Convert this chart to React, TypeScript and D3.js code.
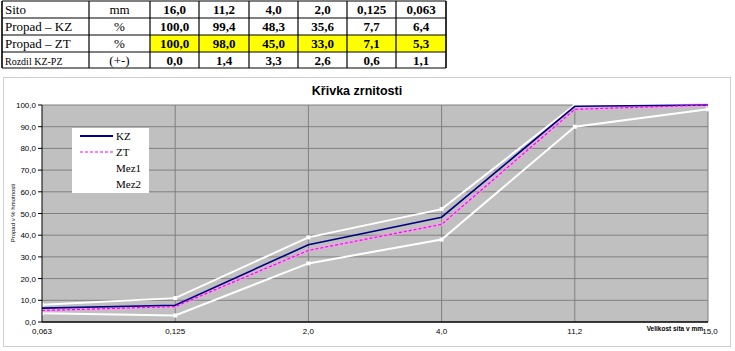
import React from 'react';
import * as d3 from 'd3';

// table data (as printed above the chart)
const rowLabels = ['Sito', 'Propad – KZ', 'Propad – ZT', 'Rozdil KZ-PZ'];
const rowUnits = ['mm', '%', '%', '(+-)'];
const sieves = ['16,0', '11,2', '4,0', '2,0', '0,125', '0,063'];
const passKZ = [100.0, 99.4, 48.3, 35.6, 7.7, 6.4];
const passZT = [100.0, 98.0, 45.0, 33.0, 7.1, 5.3];
const diff = [0.0, 1.4, 3.3, 2.6, 0.6, 1.1];

// chart data (small sieve first)
const categories = ['0,063', '0,125', '2,0', '4,0', '11,2', '15,0'];
const kz = [6.4, 7.7, 35.6, 48.3, 99.4, 100.0];
const zt = [5.3, 7.1, 33.0, 45.0, 98.0, 100.0];
const mez1 = [8, 11, 39, 52, 100, 100];
const mez2 = [4, 3, 27, 38, 90, 98];
const yTicks = [0, 10, 20, 30, 40, 50, 60, 70, 80, 90, 100];

const comma = (v: number) => d3.format('.1f')(v).replace('.', ',');

function Table() {
  const colX = [2, 89, 150, 199, 249, 298, 347, 396, 446];
  const rowY = [1, 18, 35, 52, 68];
  const rows = [sieves, passKZ.map(comma), passZT.map(comma), diff.map(comma)];
  return (
    <g>
      <rect x={colX[2]} y={rowY[2]} width={colX[8] - colX[2]} height={rowY[3] - rowY[2]} fill="#ffff00" />
      {rowY.map((y, i) => (
        <line key={'h' + i} x1={colX[0]} x2={colX[8]} y1={y} y2={y} stroke="#000" strokeWidth={1.2} />
      ))}
      {colX.map((x, i) => (
        <line key={'v' + i} x1={x} x2={x} y1={rowY[0]} y2={rowY[4]} stroke="#000"
          strokeWidth={i === 0 || i === 8 ? 1.6 : 1.2} />
      ))}
      {rowLabels.map((lab, r) => (
        <g key={lab} fontFamily="'Liberation Serif', 'Times New Roman', serif">
          <text x={colX[0] + 3} y={rowY[r] + 13} fontSize={r === 3 ? 10 : 13}>{lab}</text>
          <text x={(colX[1] + colX[2]) / 2} y={rowY[r] + 13} fontSize={13} textAnchor="middle">{rowUnits[r]}</text>
          {rows[r].map((v, c) => (
            <text key={c} x={(colX[c + 2] + colX[c + 3]) / 2} y={rowY[r] + 13} fontSize={13}
              fontWeight="bold" textAnchor="middle">{v}</text>
          ))}
        </g>
      ))}
    </g>
  );
}

function Chart() {
  const x = d3.scalePoint<string>().domain(categories).range([42, 708]).padding(0);
  const y = d3.scaleLinear().domain([0, 100]).range([322, 105]);
  const line = d3.line<number>()
    .x((_, i) => x(categories[i]) as number)
    .y(d => y(d));

  return (
    <g fontFamily="'Liberation Sans', Arial, sans-serif">
      <rect x={3.5} y={77.5} width={727} height={269} fill="#fff" stroke="#d0d0d0" />
      <text x={357} y={95} textAnchor="middle" fontSize={12.5} fontWeight="bold">Křivka zrnitosti</text>

      <rect x={42} y={105} width={666} height={217} fill="#c0c0c0" />
      {yTicks.slice(1).map(t => (
        <line key={t} x1={42} x2={708} y1={y(t)} y2={y(t)} stroke="#808080" />
      ))}
      {categories.slice(1).map(c => (
        <line key={c} x1={x(c)} x2={x(c)} y1={105} y2={322} stroke="#808080" />
      ))}

      {/* limits */}
      {[mez1, mez2].map((s, k) => (
        <g key={k}>
          <path d={line(s) || ''} fill="none" stroke="#fff" strokeWidth={2} />
          {s.map((v, i) => (
            <rect key={i} x={(x(categories[i]) as number) - 2} y={y(v) - 2} width={4} height={4} fill="#fff" />
          ))}
        </g>
      ))}
      <path d={line(zt) || ''} fill="none" stroke="#ff9cf0" strokeWidth={4} opacity={0.45} />
      <path d={line(kz) || ''} fill="none" stroke="#000080" strokeWidth={1.6} />
      <path d={line(zt) || ''} fill="none" stroke="#ff00ff" strokeWidth={1.2} strokeDasharray="3,2" />

      {/* axes */}
      <line x1={42} x2={42} y1={105} y2={322} stroke="#000" />
      <line x1={42} x2={708} y1={322} y2={322} stroke="#000" strokeWidth={1.5} />
      {yTicks.map(t => (
        <g key={t}>
          <line x1={38} x2={42} y1={y(t)} y2={y(t)} stroke="#000" />
          <text x={36} y={y(t) + 3} fontSize={8} textAnchor="end">{comma(t)}</text>
        </g>
      ))}
      {categories.map(c => (
        <text key={c} x={(x(c) as number) + (c === '15,0' ? 2 : 0)} y={334} fontSize={8} textAnchor="middle">{c}</text>
      ))}
      <text x={703} y={331} fontSize={6.5} fontWeight="bold" textAnchor="end">Velikost síta v mm</text>
      <text transform="translate(15,213) rotate(-90)" fontSize={6} textAnchor="middle">Propad v % hmotnosti</text>

      {/* legend */}
      <rect x={72} y={128} width={77} height={65} fill="#fff" />
      <line x1={80} x2={113} y1={136} y2={136} stroke="#000080" strokeWidth={2} />
      <line x1={80} x2={113} y1={152} y2={152} stroke="#ff00ff" strokeWidth={1} strokeDasharray="3,2" />
      <g fontFamily="'Liberation Serif', 'Times New Roman', serif" fontSize={11}>
        {['KZ', 'ZT', 'Mez1', 'Mez2'].map((n, i) => (
          <text key={n} x={116} y={140 + i * 16} >{n}</text>
        ))}
      </g>
    </g>
  );
}

export default function App() {
  return (
    <div style={{ position: 'fixed', left: 0, top: 0 }}>
      <svg width={735} height={351} style={{ display: 'block', background: '#fff' }}>
        <Table />
        <Chart />
      </svg>
    </div>
  );
}
